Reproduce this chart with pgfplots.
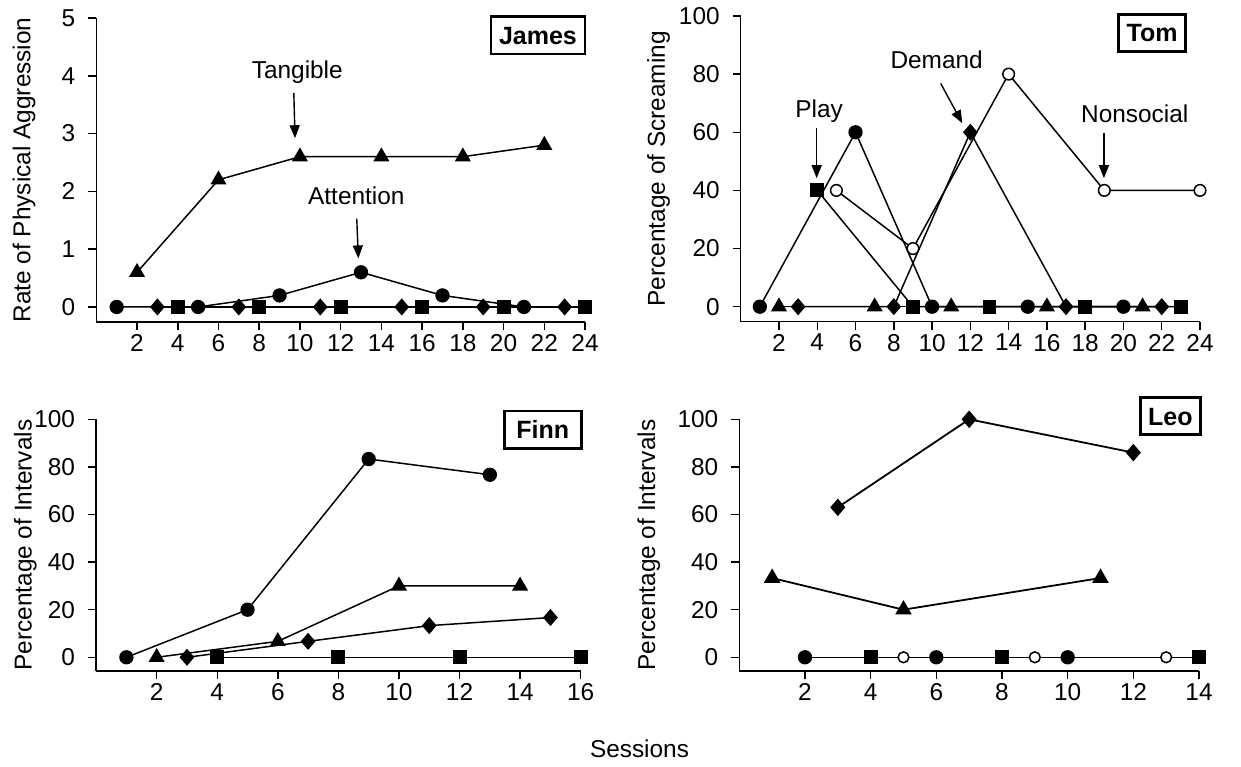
\documentclass[border=0pt]{standalone}
\usepackage{fontspec}
\setmainfont{Liberation Sans}
\usepackage{pgfplots}
\pgfplotsset{compat=1.18}
\usetikzlibrary{arrows.meta}

\pgfplotsset{
  panel/.style={
    scale only axis,
    anchor=south west,
    axis lines*=left,
    axis line style={-, line width=0.75bp},
    tick align=outside,
    tick style={black, line width=0.75bp},
    major tick length=4bp,
    xmin=0,
    clip=false,
    /pgf/number format/assume math mode=true,
    yticklabel style={xshift=-3bp},
    xticklabel style={inner sep=2bp},
    every axis plot/.append style={black, line width=0.75bp},
  },
  fc/.style={mark=*, mark size=3.2bp},
  oc/.style={mark=*, mark size=2.9bp, mark options={fill=white}},
  sq/.style={mark=square*, mark size=3.1bp},
  tri/.style={mark=triangle*, mark size=3.9bp},
  dia/.style={mark=diamond*, mark size=3.7bp, mark options={xscale=1.15}},
}
\tikzset{
  lab/.style={draw, line width=1.3bp, font=\fontsize{12.5bp}{15bp}\selectfont\bfseries,
    inner xsep=4bp, inner ysep=4.8bp, text height=9bp, text depth=0pt},
  arr/.style={-{Triangle[length=6.5bp,width=5bp]}, line width=0.7bp},
}

\begin{document}
\begin{tikzpicture}[font=\fontsize{12.2bp}{14.6bp}\selectfont]
\useasboundingbox (0,0) rectangle (620.5bp,383.5bp);

% James
\begin{axis}[panel, at={(48.15bp,222.5bp)}, width=244.35bp, height=152bp,
  xmax=24, ymin=-0.26, ymax=5, xtick={2,4,...,24}, ytick={0,1,...,5},
  ylabel={Rate of Physical Aggression},
  ylabel style={at={(axis description cs:-0.135,0.5)}, anchor=base}]
\addplot[fc] coordinates {(1,0)(5,0)(9,0.2)(13,0.6)(17,0.2)(21,0)};
\addplot[tri] coordinates {(2,0.6)(6,2.2)(10,2.6)(14,2.6)(18,2.6)(22,2.8)};
\addplot[dia] coordinates {(3,0)(7,0)(11,0)(15,0)(19,0)(23,0)};
\addplot[sq] coordinates {(4,0)(8,0)(12,0)(16,0)(20,0)(24,0)};
\node[anchor=base] at (axis cs:9.87,3.96) {Tangible};
\draw[arr] (axis cs:9.7,3.7) -- (axis cs:9.76,2.92);
\node[anchor=base] at (axis cs:12.77,1.78) {Attention};
\draw[arr] (axis cs:12.79,1.53) -- (axis cs:12.87,0.84);
\node[lab] at (axis cs:21.69,4.70) {James};
\end{axis}

% Tom
\begin{axis}[panel, at={(370.35bp,222.65bp)}, width=229.65bp, height=152.85bp,
  xmax=24, ymin=-5.16, ymax=100, xtick={2,4,...,24}, ytick={0,20,...,100},
  ylabel={Percentage of Screaming},
  ylabel style={at={(axis description cs:-0.165,0.5)}, anchor=base}]
\addplot[fc] coordinates {(1,0)(6,60)(10,0)(15,0)(20,0)};
\addplot[tri] coordinates {(2,0)(7,0)(11,0)(16,0)(21,0)};
\addplot[dia] coordinates {(3,0)(8,0)(12,60)(17,0)(22,0)};
\addplot[sq] coordinates {(4,40)(9,0)(13,0)(18,0)(23,0)};
\addplot[oc] coordinates {(5,40)(9,20)(14,80)(19,40)(24,40)};
\node[anchor=base] at (axis cs:4.10,65.2) {Play};
\draw[arr] (axis cs:3.97,61.4) -- (axis cs:3.97,44.2);
\node[anchor=base] at (axis cs:10.24,82.0) {Demand};
\draw[arr] (axis cs:10.45,76.8) -- (axis cs:11.58,63.1);
\node[anchor=base] at (axis cs:20.59,63.3) {Nonsocial};
\draw[arr] (axis cs:18.98,59.6) -- (axis cs:18.98,44.2);
\node[lab] at (axis cs:21.5,94.2) {Tom};
\end{axis}

% Finn
\begin{axis}[panel, at={(48.05bp,48bp)}, width=242.3bp, height=125.85bp,
  xmax=16, ymin=-5.76, ymax=100, xtick={2,4,...,16}, ytick={0,20,...,100},
  ylabel={Percentage of Intervals},
  ylabel style={at={(axis description cs:-0.133,0.5)}, anchor=base}]
\addplot[fc] coordinates {(1,0)(5,20)(9,83.3)(13,76.7)};
\addplot[tri] coordinates {(2,0)(6,6.7)(10,30)(14,30)};
\addplot[dia] coordinates {(3,0)(7,6.7)(11,13.3)(15,16.7)};
\addplot[sq] coordinates {(4,0)(8,0)(12,0)(16,0)};
\node[lab, inner xsep=6bp] at (axis cs:14.75,95.6) {Finn};
\end{axis}

% Leo
\begin{axis}[panel, at={(369.65bp,48bp)}, width=229.85bp, height=125.85bp,
  xmax=14, ymin=-5.76, ymax=100, xtick={2,4,...,14}, ytick={0,20,...,100},
  ylabel={Percentage of Intervals},
  ylabel style={at={(axis description cs:-0.183,0.5)}, anchor=base}]
\addplot[dia, line width=0.9bp] coordinates {(3,63)(7,100)(12,86)};
\addplot[tri, line width=0.9bp] coordinates {(1,33.3)(5,20)(11,33.3)};
\addplot[fc] coordinates {(2,0)(6,0)(10,0)};
\addplot[sq] coordinates {(4,0)(8,0)(14,0)};
\addplot[oc, mark size=2.7bp] coordinates {(5,0)(9,0)(13,0)};
\addplot[black, line width=0.75bp, no marks] coordinates {(2,0)(14,0)};
\node[lab] at (axis cs:13.13,101.3) {Leo};
\end{axis}

\node[anchor=base] at (319.75bp,4.85bp) {Sessions};
\end{tikzpicture}
\end{document}
